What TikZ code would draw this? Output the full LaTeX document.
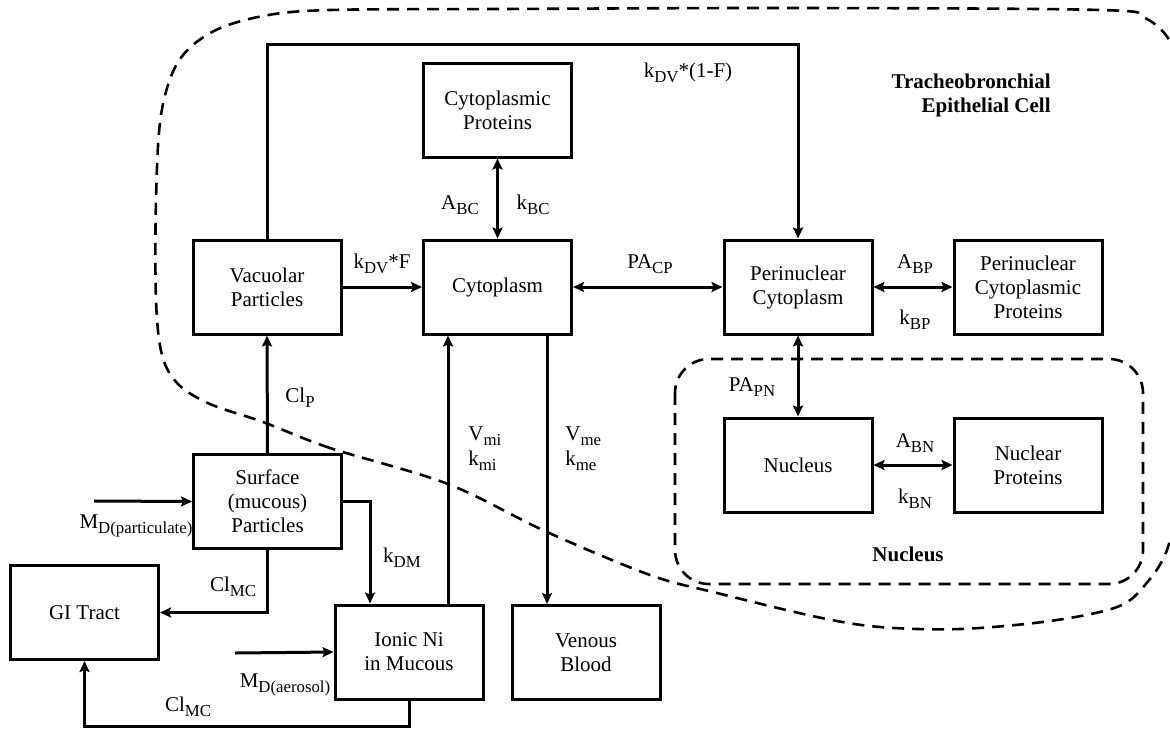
\documentclass[tikz,border=0pt]{standalone}
\usepackage{fontspec}
\setmainfont{Liberation Serif}
\usetikzlibrary{arrows.meta}
\newcommand\sbs[1]{\raisebox{-2.6pt}{\fontsize{8.4}{9}\selectfont #1}}
\begin{document}
\begin{tikzpicture}[x=0.5pt,y=-0.5pt,
  box/.style={draw, line width=1.5pt, fill=white, minimum width=74pt, minimum height=47pt, align=center, inner sep=1pt, font=\fontsize{10.5}{12}\selectfont},
  conn/.style={line width=1.5pt},
  tip/.tip={Stealth[length=5.5pt,width=5pt,inset=1pt]},
  arr/.style={conn, -tip},
  dbl/.style={conn, tip-tip},
  lbl/.style={font=\fontsize{10.5}{12.5}\selectfont, inner sep=1pt},
  region/.style={line width=1.3pt, dash pattern=on 6pt off 4pt},
  ttl/.style={font=\bfseries\fontsize{10.5}{12}\selectfont, align=right, inner sep=1pt}
]
\useasboundingbox (0,0) rectangle (1170,728);
\clip (0,0) rectangle (1170,728);

% compartments
\draw[region] plot[smooth cycle, tension=0.55] coordinates {(448,484) (330,448) (263,422) (210,404) (178,384) (162,355) (156,300) (156,200) (161,115) (178,62) (212,32) (263,16) (330,10) (500,9) (800,8) (1100,10) (1145,18) (1172,45) (1184,100) (1186,300) (1183,470) (1168,547) (1145,585) (1117,607) (1050,621) (960,629) (880,627) (817,617) (717,593) (650,575) (547,532)};
\draw[region, rounded corners=17pt] (675,359) rectangle (1143,584);

% boxes
\node[box] (vac) at (267,287) {Vacuolar\\Particles};
\node[box] (cytp) at (497.5,110) {Cytoplasmic\\Proteins};
\node[box] (cyto) at (497.5,287) {Cytoplasm};
\node[box] (peri) at (798,287) {Perinuclear\\Cytoplasm};
\node[box] (pcp) at (1028,287) {Perinuclear\\Cytoplasmic\\Proteins};
\node[box] (nuc) at (798,465) {Nucleus};
\node[box] (nucp) at (1028,465) {Nuclear\\Proteins};
\node[box] (surf) at (267.5,501.5) {Surface\\(mucous)\\Particles};
\node[box] (gi) at (84.5,612.5) {GI Tract};
\node[box] (ionic) at (409,652) {Ionic Ni\\in Mucous};
\node[box] (ven) at (586,652.5) {Venous\\Blood};

% helper coordinates
\coordinate (topL) at (267,44);
\coordinate (topR) at (798,44);
\coordinate (kdmx) at (370,0);
\coordinate (mix) at (448,0);
\coordinate (mex) at (547,0);
\coordinate (mdp) at (94,501);
\coordinate (mda) at (235,653);
\coordinate (bot) at (0,726);

% connectors
\draw[arr] (vac.north) -- (topL) -- (topR) -- (peri.north);
\draw[arr] (vac.east) -- (cyto.west);
\draw[dbl] (cyto.east) -- (peri.west);
\draw[dbl] (cytp.south) -- (cyto.north);
\draw[dbl] (peri.east) -- (pcp.west);
\draw[dbl] (peri.south) -- (nuc.north);
\draw[dbl] (nuc.east) -- (nucp.west);
\draw[arr] (surf.north) -- (vac.south);
\draw[arr] (surf.south) |- (gi.east);
\draw[arr] (surf.east) -| (ionic.north -| kdmx);
\draw[arr] (ionic.north -| mix) -- (cyto.south -| mix);
\draw[arr] (cyto.south -| mex) -- (ven.north -| mex);
\draw[arr] (mdp) -- (surf.west);
\draw[arr] (mda) -- (ionic.west);
\draw[arr] (ionic.south) -- (ionic.south |- bot) -| (gi.south);

% labels
\node[lbl] (l1) at (688,73) {k\sbs{DV}*(1-F)};
\node[ttl, anchor=east] (ttl1) at (1053,95) {Tracheobronchial\\Epithelial Cell};
\node[lbl] (l2) at (382,264) {k\sbs{DV}*F};
\node[lbl] (l3) at (650,264) {PA\sbs{CP}};
\node[lbl] (l4) at (460,205) {A\sbs{BC}};
\node[lbl] (l5) at (533,205) {k\sbs{BC}};
\node[lbl] (l6) at (915,264) {A\sbs{BP}};
\node[lbl] (l7) at (915,320) {k\sbs{BP}};
\node[lbl] (l8) at (752,387) {PA\sbs{PN}};
\node[lbl] (l9) at (915,443) {A\sbs{BN}};
\node[lbl] (l10) at (915,499) {k\sbs{BN}};
\node[ttl] (l11) at (908,554) {Nucleus};
\node[lbl] (l12) at (300,398) {Cl\sbs{P}};
\node[lbl, align=left, anchor=west] (l13) at (466,449) {V\sbs{mi}\\k\sbs{mi}};
\node[lbl, align=left, anchor=west] (l14) at (563,449) {V\sbs{me}\\k\sbs{me}};
\node[lbl] (l15) at (136,526) {M\sbs{D(particulate)}};
\node[lbl] (l16) at (233,587) {Cl\sbs{MC}};
\node[lbl] (l17) at (402,558) {k\sbs{DM}};
\node[lbl] (l18) at (285,685) {M\sbs{D(aerosol)}};
\node[lbl] (l19) at (188,707) {Cl\sbs{MC}};
\end{tikzpicture}
\end{document}
